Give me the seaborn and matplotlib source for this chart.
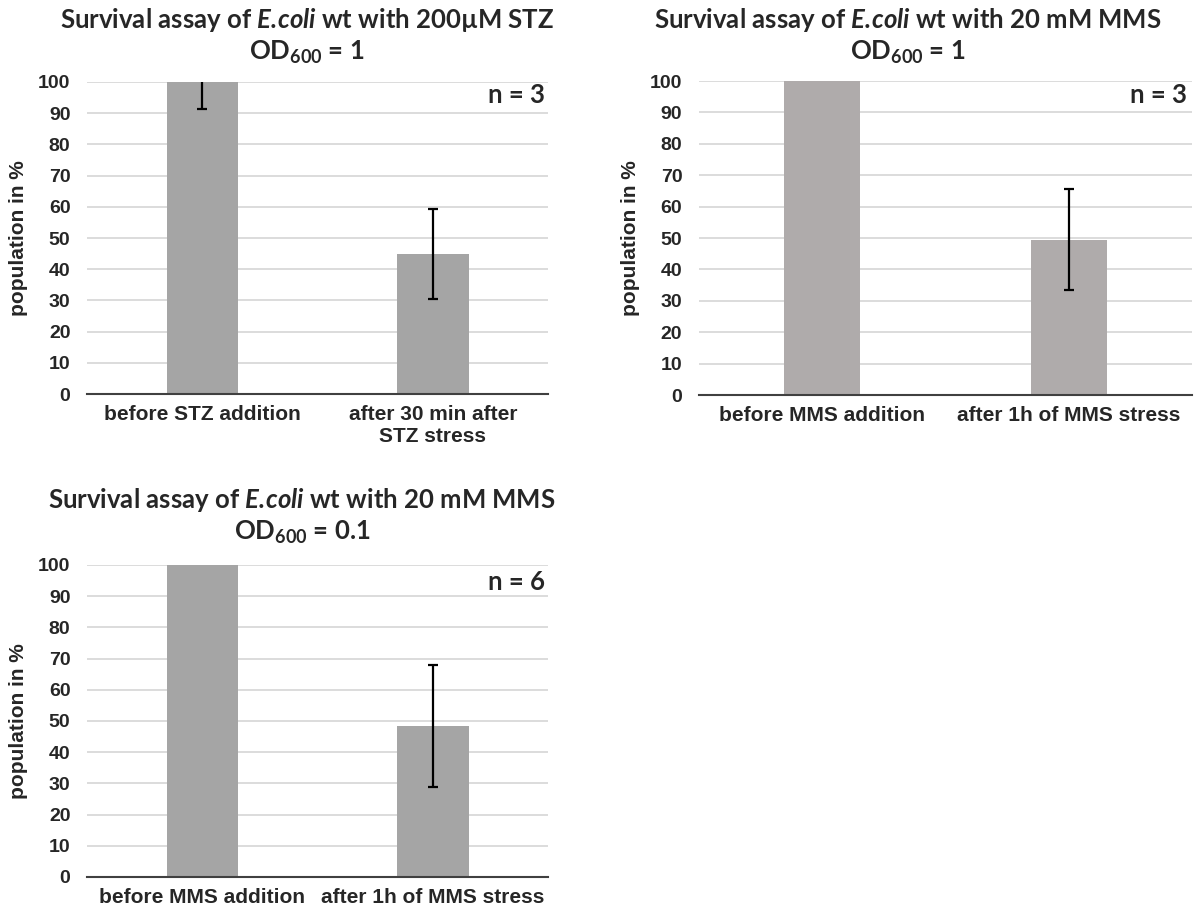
import matplotlib
matplotlib.use('Agg')
import matplotlib.pyplot as plt
import seaborn as sns
import pandas as pd

sns.set_style('white')
plt.rcParams['font.family'] = ['Liberation Sans', 'DejaVu Sans']
plt.rcParams['font.weight'] = 'bold'
plt.rcParams['mathtext.fontset'] = 'custom'
plt.rcParams['mathtext.default'] = 'regular'
plt.rcParams['mathtext.bfit'] = 'Lato:italic:bold'

# data (mean and error in %)
stz_labels = ['before STZ addition', 'after 30 min after\nSTZ stress']
stz_means = [100, 44.8]
stz_err = [8.5, 14.4]

mms1_labels = ['before MMS addition', 'after 1h of MMS stress']
mms1_means = [100, 49.5]
mms1_err = [0, 16.1]

mms01_labels = ['before MMS addition', 'after 1h of MMS stress']
mms01_means = [100, 48.3]
mms01_err = [0, 19.6]

TITLE_FONT = ['Lato', 'DejaVu Sans']

fig = plt.figure(figsize=(11.99, 9.14), dpi=100)


def panel(rect, labels, means, errs, color, n_text, n_pos):
    ax = fig.add_axes(rect)
    df = pd.DataFrame({'cond': labels, 'val': means})
    sns.barplot(data=df, x='cond', y='val', color=color, width=0.31,
                saturation=1, errorbar=None, linewidth=0, ax=ax)
    idx = [i for i, e in enumerate(errs) if e > 0]
    ax.errorbar(idx, [means[i] for i in idx], yerr=[errs[i] for i in idx],
                fmt='none', ecolor='black', elinewidth=1.6, capsize=3.5,
                capthick=1.6, zorder=3)
    ax.set_xlim(-0.5, len(labels) - 0.5)
    ax.set_ylim(0, 100)
    ax.set_yticks(range(0, 101, 10))
    ax.yaxis.grid(True, color='#D9D9D9', lw=1.3)
    ax.set_axisbelow(True)
    for s in ['left', 'right', 'top']:
        ax.spines[s].set_visible(False)
    ax.spines['bottom'].set_color('#404040')
    ax.spines['bottom'].set_linewidth(1.5)
    ax.tick_params(axis='y', length=0, pad=12, labelsize=14)
    ax.tick_params(axis='x', length=0, pad=8, labelsize=15)
    for lab in ax.get_xticklabels() + ax.get_yticklabels():
        lab.set_fontweight('bold')
    ax.set_xlabel('')
    ax.set_ylabel('population in %', fontsize=15, fontweight='bold',
                  labelpad=7)
    ax.text(n_pos[0], n_pos[1], n_text, transform=ax.transAxes, ha='right',
            va='center', family=TITLE_FONT, fontsize=18.5, fontweight='bold')
    return ax


panel([0.0726, 0.5689, 0.3845, 0.3414], stz_labels, stz_means, stz_err,
      '#A5A5A5', 'n = 3', (0.993, 0.958))
panel([0.583, 0.5678, 0.4112, 0.3435], mms1_labels, mms1_means, mms1_err,
      '#AFABAB', 'n = 3', (0.99, 0.955))
panel([0.0726, 0.0405, 0.3845, 0.3414], mms01_labels, mms01_means, mms01_err,
      '#A5A5A5', 'n = 6', (0.993, 0.945))

ecoli = r'$\mathbfit{E.\!coli}$'
titles = [
    (307, 20, 52, 'Survival assay of ' + ecoli + ' wt with 200µM STZ', r'OD$_{600}$ = 1'),
    (908, 20, 52, 'Survival assay of ' + ecoli + ' wt with 20 mM MMS', r'OD$_{600}$ = 1'),
    (302, 500, 532, 'Survival assay of ' + ecoli + ' wt with 20 mM MMS', r'OD$_{600}$ = 0.1'),
]
W, H = 1199, 914
for x, y1, y2, t1, t2 in titles:
    fig.text(x / W, 1 - y1 / H, t1, ha='center', va='center',
             family=TITLE_FONT, fontsize=18.5, fontweight='bold')
    fig.text(x / W, 1 - y2 / H, t2, ha='center', va='center',
             family=TITLE_FONT, fontsize=18.5, fontweight='bold')

fig.savefig('out.png', dpi=100)
